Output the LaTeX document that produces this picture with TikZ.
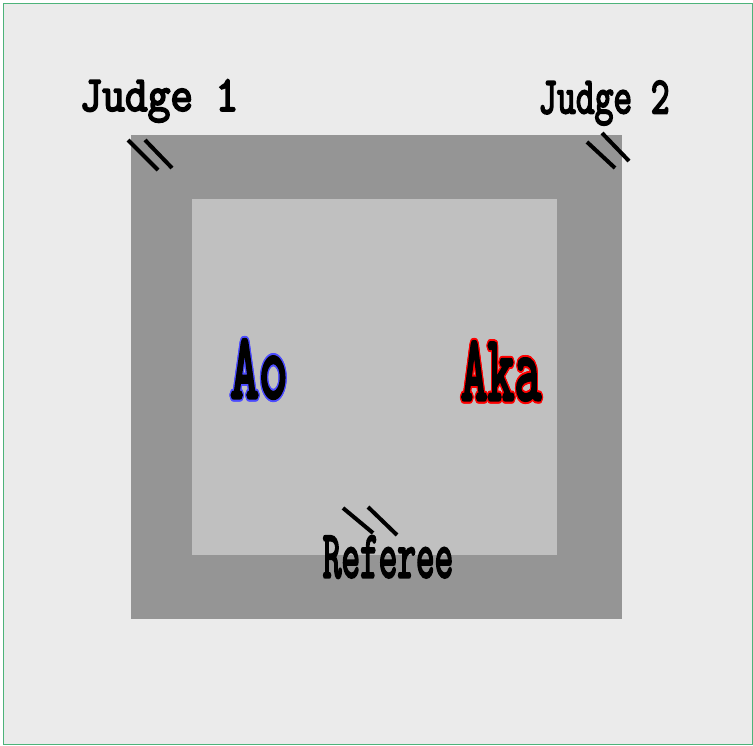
\documentclass[tikz,border=0pt]{standalone}
\usepackage{fontspec}
\usepackage{graphicx}
\usepackage{contour}
\newfontfamily\matfont{Latin Modern Mono}[FakeBold=4]
\definecolor{floorbg}{HTML}{EBEBEB}
\definecolor{frameline}{HTML}{4DB37A}
\definecolor{safety}{HTML}{959595}
\definecolor{matarea}{HTML}{C0C0C0}
\contourlength{2pt}

\begin{document}
\begin{tikzpicture}[
    x=1pt, y=-1pt,
    floor/.style     = {draw=frameline, line width=1pt, fill=floorbg},
    zone/.style      = {fill=safety},
    mat/.style       = {fill=matarea},
    judgeflag/.style = {line width=4pt, black},
    label text/.style = {inner sep=0pt},
]

% ---- floor and mat ----
\useasboundingbox (0,0) rectangle (753,745);
\draw[floor] (3,3) rectangle (752,744);
\fill[zone]  (131,135) rectangle (622,619);
\fill[mat]   (192,199) rectangle (557,555);

% ---- officials ----
\node[label text, font=\matfont\fontsize{50}{50}\selectfont] (judge1) at (159,101) {\scalebox{0.88}[1]{Judge 1}};
\node[label text, font=\matfont\fontsize{52}{52}\selectfont] (judge2) at (604,103) {\scalebox{0.7}[1]{Judge 2}};
\node[label text, font=\matfont\fontsize{67}{67}\selectfont] (referee) at (388,557) {\scalebox{0.54}[1]{Referee}};

% flags
\draw[judgeflag] (128,140) -- (158,170);
\draw[judgeflag] (145,140) -- (172,168);
\draw[judgeflag] (587,142) -- (615,168);
\draw[judgeflag] (602,133) -- (629,161);
\draw[judgeflag] (343,508) -- (373,533);
\draw[judgeflag] (368,507) -- (397,535);

% ---- competitors ----
\node[label text, font=\matfont\fontsize{93}{93}\selectfont] (ao)  at (259,370) {\scalebox{0.6}[1]{\contour[12]{blue!70}{Ao}}};
\node[label text, font=\matfont\fontsize{93}{93}\selectfont] (aka) at (501,372) {\scalebox{0.56}[1]{\contour[12]{red}{Aka}}};

\end{tikzpicture}
\end{document}
